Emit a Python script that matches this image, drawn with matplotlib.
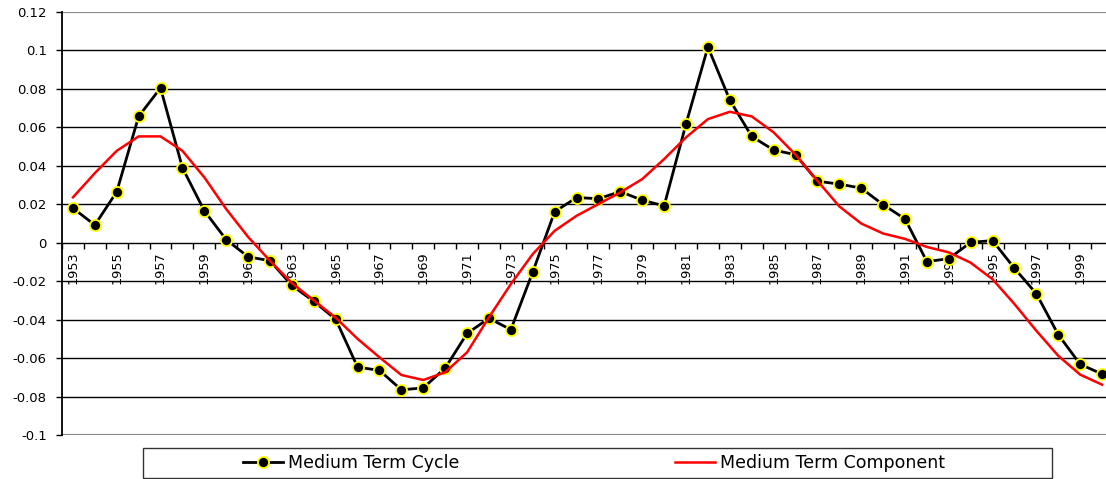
import matplotlib
matplotlib.use("Agg")
import matplotlib.pyplot as plt
import numpy as np
from matplotlib.patches import Rectangle
from matplotlib.lines import Line2D

years = list(range(1953, 2001))
cycle = [0.018, 0.0092, 0.0265, 0.0657, 0.0805, 0.039, 0.0166, 0.0016,
         -0.0073, -0.0094, -0.0222, -0.0305, -0.0398, -0.0647, -0.0664, -0.0765, -0.0755, -0.0652,
         -0.0472, -0.0393, -0.0452, -0.0152, 0.0161, 0.0235, 0.0229, 0.0266, 0.0221, 0.0192,
         0.0618, 0.1018, 0.0742, 0.0553, 0.0482, 0.0458, 0.032, 0.0305, 0.0284, 0.0198,
         0.0124, -0.0098, -0.0083, 0.0002, 0.0011, -0.0133, -0.0265, -0.0478, -0.0632, -0.0683]
component = [0.0236, 0.0362, 0.0478, 0.0553, 0.0553, 0.0478, 0.034, 0.0175,
             0.003, -0.0094, -0.021, -0.030, -0.039, -0.050, -0.0596, -0.0688, -0.0714, -0.0674,
             -0.057, -0.0388, -0.0215, -0.0059, 0.0062, 0.014, 0.0201, 0.0262, 0.0331, 0.0435,
             0.0548, 0.0643, 0.0681, 0.0657, 0.0574, 0.0458, 0.0322, 0.0189, 0.010, 0.0048,
             0.002, -0.0022, -0.005, -0.0104, -0.019, -0.0319, -0.0458, -0.0588, -0.0686, -0.0738]
ytick_values = [0.12, 0.1, 0.08, 0.06, 0.04, 0.02, 0, -0.02, -0.04, -0.06, -0.08, -0.1]
ytick_labels = ["0.12", "0.1", "0.08", "0.06", "0.04", "0.02", "0", "-0.02", "-0.04", "-0.06", "-0.08", "-0.1"]
series_names = ["Medium Term Cycle", "Medium Term Component"]

plt.rcParams['font.family'] = ['DejaVu Sans']

W, H = 1106, 479
fig = plt.figure(figsize=(W / 100, H / 100), dpi=100)
ax = fig.add_axes([62 / W, (H - 435) / H, (1113 - 62) / W, (435 - 12) / H])

x = np.arange(len(years))
ax.set_xlim(-0.5, len(years) - 0.5)
ax.set_ylim(-0.1, 0.12)

# gridlines
for v in ytick_values:
    if v in (0.12, -0.1):
        ax.axhline(v, color='#8c8c8c', lw=1.6, zorder=1)
    elif v != 0:
        ax.axhline(v, color='black', lw=1.0, zorder=1)

ax.plot(x, cycle, color='black', lw=2.0, marker='o', markersize=8,
        markerfacecolor='black', markeredgecolor='#ffff00', markeredgewidth=1.3, zorder=3)
ax.plot(x, component, color='#ff0000', lw=1.8, zorder=4)

# spines
for s in ['top', 'right']:
    ax.spines[s].set_visible(False)
ax.spines['left'].set_color('black')
ax.spines['left'].set_linewidth(1.3)
ax.spines['bottom'].set_position(('data', 0))
ax.spines['bottom'].set_color('black')
ax.spines['bottom'].set_linewidth(1.0)

ax.set_yticks(ytick_values)
ax.set_yticklabels(ytick_labels)
ax.tick_params(axis='y', direction='out', length=4, width=1, pad=7, labelsize=9.5)

ax.set_xticks(x)
ax.set_xticklabels([str(y) if i % 2 == 0 else '' for i, y in enumerate(years)],
                   rotation=90, va='top', ha='center')
ax.tick_params(axis='x', which='major', length=0, pad=6, labelsize=9.3)
ax.set_xticks(np.arange(-0.5, len(years), 1), minor=True)
ax.tick_params(axis='x', which='minor', direction='out', length=4, width=1)

# legend frame
fig.patches.append(Rectangle((143 / W, 1 / H), (1052 - 143) / W, 30 / H,
                             transform=fig.transFigure, fill=False,
                             edgecolor='#333333', lw=1.0))
handles = [Line2D([], [], color='black', lw=2.0, marker='o', markersize=8,
                  markerfacecolor='black', markeredgecolor='#ffff00', markeredgewidth=1.3),
           Line2D([], [], color='#ff0000', lw=1.8)]
fig.legend(handles, series_names, loc='center left', ncol=2, frameon=False,
           bbox_to_anchor=(243 / W, 1 - 463 / H), fontsize=12.5, handlelength=2.3,
           handletextpad=0.3, columnspacing=12.4, borderpad=0, borderaxespad=0)

fig.savefig('out.png', dpi=100)
